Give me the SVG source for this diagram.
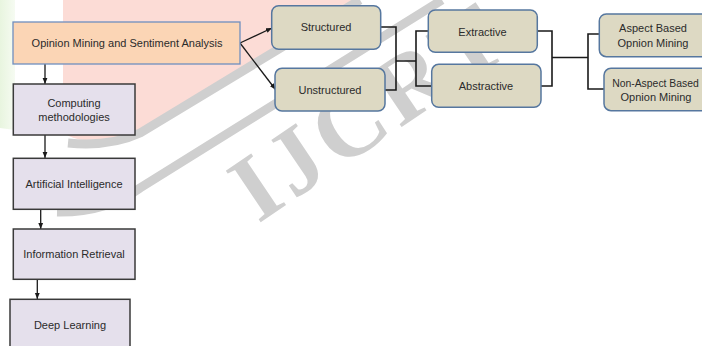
<svg xmlns="http://www.w3.org/2000/svg" width="702" height="346" viewBox="0 0 702 346">
<defs>
<marker id="ah" viewBox="0 0 10 10" refX="10" refY="5" markerWidth="6" markerHeight="6" orient="auto" markerUnits="userSpaceOnUse"><path d="M0,1 L10,5 L0,9 z" fill="#1a1a1a"/></marker>
<linearGradient id="gr" x1="0" y1="0" x2="1" y2="0"><stop offset="0" stop-color="#e8f5df"/><stop offset="1" stop-color="#f6fbf2"/></linearGradient>
</defs>
<style>
.t{font-family:"Liberation Sans",Arial,sans-serif;font-size:11px;fill:#2b2b2b;text-anchor:middle}
.main{fill:#fbd5b5;stroke:#6f8fbf;stroke-width:1.3}
.lv{fill:#e5e0ec;stroke:#3a3a3a;stroke-width:1.5}
.rb{fill:#ddd9c3;stroke:#56779f;stroke-width:1.5}
.ar{stroke:#1a1a1a;stroke-width:1.3;fill:none}
.br{stroke:#1a1a1a;stroke-width:1.6;fill:none}
.band{stroke:#cfcfcf;stroke-width:9;fill:none}
.wm{font-family:"Liberation Serif","Times New Roman",serif;font-weight:bold;font-size:95px;letter-spacing:6px;fill:#cfcfcf}
</style>
<rect width="702" height="346" fill="#ffffff"/>
<g id="watermark">
<path d="M0,0 L15,0 L15,130 L0,128 Z" fill="url(#gr)"/>
<path d="M63,0 L63,130 Q66,138 85,140 L135,137 L358,0 Z" fill="#fcdcd6"/>
<path class="band" d="M68,143 Q110,147 140,133 L360,0"/>
<path class="band" d="M57,212 Q105,213 140,188 L442,0"/>
<text class="wm" transform="translate(258,224) rotate(-34)">IJCRT</text>
</g>
<g id="connectors">
<line class="ar" x1="45" y1="64" x2="45" y2="84" marker-end="url(#ah)"/>
<line class="ar" x1="45" y1="135" x2="45" y2="158" marker-end="url(#ah)"/>
<line class="ar" x1="40.7" y1="209" x2="40.7" y2="229" marker-end="url(#ah)"/>
<line class="ar" x1="37.3" y1="279" x2="37.3" y2="299" marker-end="url(#ah)"/>
<line class="ar" x1="240" y1="43" x2="272" y2="28" marker-end="url(#ah)"/>
<line class="ar" x1="240" y1="43" x2="275.5" y2="89.5" marker-end="url(#ah)"/>
<path class="br" d="M381,27 H396 V90 H385 M396,61 H416 M428,31 H416 V86 H432"/>
<path class="br" d="M537,31 H552 V86 H541 M552,57.5 H588 M599,34 H588 V89 H604"/>
</g>
<g id="n-osa"><rect class="main" x="13" y="22" width="227" height="42"/><text class="t" x="127" y="47">Opinion Mining and Sentiment Analysis</text></g>
<g id="n-cm"><rect class="lv" x="13.3" y="84" width="121.7" height="51"/><text class="t" x="74" y="106.5">Computing</text><text class="t" x="74" y="120.5">methodologies</text></g>
<g id="n-ai"><rect class="lv" x="13.3" y="158.3" width="121.7" height="51"/><text class="t" x="74" y="188">Artificial Intelligence</text></g>
<g id="n-ir"><rect class="lv" x="13.3" y="229" width="121.7" height="50.3"/><text class="t" x="74" y="258">Information Retrieval</text></g>
<g id="n-dl"><rect class="lv" x="10" y="299.3" width="120" height="52"/><text class="t" x="70" y="329">Deep Learning</text></g>
<g id="n-st"><rect class="rb" x="271.7" y="5.7" width="109" height="43.6" rx="7"/><text class="t" x="326" y="31">Structured</text></g>
<g id="n-un"><rect class="rb" x="275" y="68.3" width="110" height="42.7" rx="7"/><text class="t" x="330" y="94">Unstructured</text></g>
<g id="n-ex"><rect class="rb" x="428.3" y="10" width="109" height="42.3" rx="7"/><text class="t" x="482.5" y="35.5">Extractive</text></g>
<g id="n-ab"><rect class="rb" x="431.7" y="64.3" width="109.3" height="43" rx="7"/><text class="t" x="486" y="90">Abstractive</text></g>
<g id="n-asp"><rect class="rb" x="599.3" y="14" width="110" height="42.7" rx="7"/><text class="t" x="653" y="32">Aspect Based</text><text class="t" x="653" y="47">Opnion Mining</text></g>
<g id="n-nasp"><rect class="rb" x="604" y="68.3" width="110" height="42.4" rx="7"/><text class="t" x="655.5" y="87" style="font-size:10.4px">Non-Aspect Based</text><text class="t" x="656" y="101">Opnion Mining</text></g>
</svg>
